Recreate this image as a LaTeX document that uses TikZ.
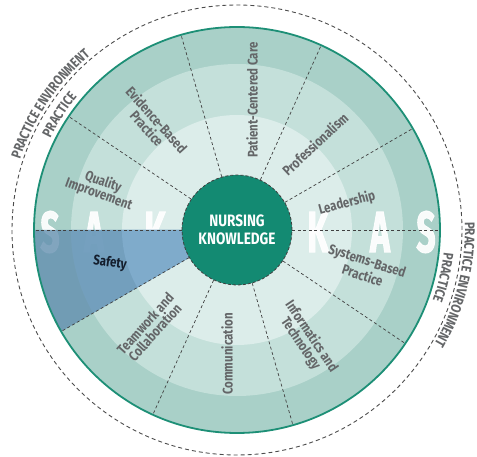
\documentclass[tikz,border=0pt]{standalone}
\usepackage{fontspec}
\setmainfont{Fira Sans}
\newfontfamily\wheelfont[FakeStretch=0.82]{Fira Sans}
\newfontfamily\letterfont[FakeStretch=0.58, FakeBold=1.5]{Fira Sans}
\usepackage{tikz}
\usetikzlibrary{decorations.text}
\definecolor{bandout}{RGB}{169,208,200}
\definecolor{bandmid}{RGB}{196,224,218}
\definecolor{bandin}{RGB}{220,237,234}
\definecolor{hubgreen}{RGB}{19,138,114}
\definecolor{rimgreen}{RGB}{29,143,118}
\definecolor{safeout}{RGB}{100,144,176}
\definecolor{safemid}{RGB}{114,159,191}
\definecolor{safein}{RGB}{130,174,207}
\definecolor{labelgray}{RGB}{100,102,104}
\definecolor{safetext}{RGB}{20,30,45}
\newcommand{\rimfont}{\wheelfont\bfseries\fontsize{14}{14}\selectfont\color{labelgray}}
\tikzstyle{wheellabel} = [text=labelgray, font=\wheelfont\bfseries\fontsize{14}{13}\selectfont, align=center, inner sep=0pt]
\tikzstyle{hub} = [circle, minimum size=110pt, inner sep=0pt, fill=hubgreen, draw=black!75, dash pattern=on 3pt off 2pt, line width=0.8pt, text=white, align=center, font=\wheelfont\bfseries\fontsize{16.5}{18}\selectfont]
\tikzstyle{bigletter} = [text=white, text opacity=0.92, font=\letterfont\bfseries\fontsize{58}{58}\selectfont, inner sep=0pt]
\tikzstyle{divider} = [draw=black!75, line width=0.7pt, dash pattern=on 3pt off 2.5pt]
\tikzstyle{rimline} = [draw=rimgreen, line width=1.8pt]
\tikzstyle{envline} = [draw=black!70, line width=0.9pt, dash pattern=on 4pt off 3pt]

\begin{document}
\begin{tikzpicture}[x=1pt, y=1pt]
				\useasboundingbox (-237,-227) rectangle (240,230);
				% Bands
				\fill[bandout] (0,0) circle (203pt);
				\fill[bandmid] (0,0) circle (166pt);
				\fill[bandin] (0,0) circle (115pt);
				% Letters
				\node [bigletter] (sakS) at (-187,-2) {S};
				\node [bigletter] (sakA) at (-143,-2) {A};
				\node [bigletter] (sakK) at (-82,-2) {K};
				\node [bigletter] (kasK) at (81,-2) {K};
				\node [bigletter] (kasA) at (143,-2) {A};
				\node [bigletter] (kasS) at (189,-2) {S};
				% Safety sector
				\fill[safeout, opacity=0.8] (0,0) -- (180:203pt) arc[start angle=180, end angle=210, radius=203pt] -- cycle;
				\fill[safemid, opacity=0.8] (0,0) -- (180:166pt) arc[start angle=180, end angle=210, radius=166pt] -- cycle;
				\fill[safein, opacity=0.8] (0,0) -- (180:115pt) arc[start angle=180, end angle=210, radius=115pt] -- cycle;
				\draw[rimline] (0,0) circle (203pt);
				% Place nodes
				\node [hub] (hub) at (0,0) {NURSING\\KNOWLEDGE};
				\coordinate (rim0) at (0:203pt);
				\coordinate (rim30) at (30:203pt);
				\coordinate (rim66) at (65.5:203pt);
				\coordinate (rim106) at (106:203pt);
				\coordinate (rim146) at (146:203pt);
				\coordinate (rim180) at (180:203pt);
				\coordinate (rim210) at (210:203pt);
				\coordinate (rim246) at (245.5:203pt);
				\coordinate (rim286) at (286:203pt);
				\coordinate (rim326) at (326:203pt);
				\path [divider] (hub.0) -- (rim0);
				\path [divider] (hub.30) -- (rim30);
				\path [divider] (hub.65.5) -- (rim66);
				\path [divider] (hub.106) -- (rim106);
				\path [divider] (hub.146) -- (rim146);
				\path [divider] (hub.180) -- (rim180);
				\path [divider] (hub.210) -- (rim210);
				\path [divider] (hub.245.5) -- (rim246);
				\path [divider] (hub.286) -- (rim286);
				\path [divider] (hub.326) -- (rim326);
				\node [wheellabel, rotate=90] (patient) at (15,130) {Patient-Centered Care};
				\node [wheellabel, rotate=43] (prof) at (78,86) {Professionalism};
				\node [wheellabel, rotate=15] (lead) at (110,27) {Leadership};
				\node [wheellabel, rotate=-18] (systems) at (128,-38) {Systems-Based\\Practice};
				\node [wheellabel, rotate=-56] (inform) at (69,-110) {Informatics and\\Technology};
				\node [wheellabel, rotate=90] (comm) at (-10,-124) {Communication};
				\node [wheellabel, rotate=48] (team) at (-87,-98) {Teamwork and\\Collaboration};
				\node [wheellabel, text=safetext, rotate=-8] (safety) at (-127,-33) {Safety};
				\node [wheellabel, rotate=-20] (quality) at (-136,42) {Quality\\Improvement};
				\node [wheellabel, rotate=-48] (evidence) at (-85,106) {Evidence-Based\\Practice};
				% Practice environment
				\draw[envline] (0,0) circle (225pt);
				\path [decorate, decoration={text along path, text align=center, text={|\rimfont|PRACTICE ENVIRONMENT}}] (178:228pt) arc[start angle=178, end angle=114, radius=228pt];
				\path [decorate, decoration={text along path, text align=center, text={|\rimfont|PRACTICE}}] (179:208pt) arc[start angle=179, end angle=115, radius=208pt];
				\path [decorate, decoration={text along path, text align=center, text={|\rimfont|PRACTICE ENVIRONMENT}}] (18:228pt) arc[start angle=18, end angle=-46, radius=228pt];
				\path [decorate, decoration={text along path, text align=center, text={|\rimfont|PRACTICE}}] (19:208pt) arc[start angle=19, end angle=-45, radius=208pt];
				\end{tikzpicture}
\end{document}
